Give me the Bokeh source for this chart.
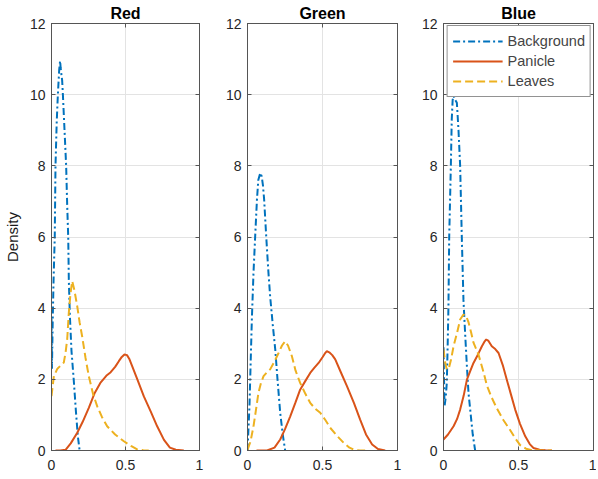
from bokeh.plotting import figure
from bokeh.layouts import row
from bokeh.models import Range1d, LinearAxis, FixedTicker, Legend, LegendItem
from bokeh.embed import file_html
from bokeh.resources import INLINE

# ---------------- data ----------------
panel_titles = ["Red", "Green", "Blue"]
series_names = ["Background", "Panicle", "Leaves"]
x_ticks = [0, 0.5, 1]
x_tick_labels = ["0", "0.5", "1"]
y_ticks = [0, 2, 4, 6, 8, 10, 12]
y_tick_labels = ["0", "2", "4", "6", "8", "10", "12"]

# Red channel
red_bg_x = [0, 0.003, 0.008, 0.014, 0.022, 0.027, 0.035, 0.043, 0.052, 0.058, 0.062, 0.066, 0.072,
            0.077, 0.088, 0.099, 0.106, 0.113, 0.117, 0.124, 0.135, 0.15, 0.165, 0.178, 0.19]
red_bg_y = [3.7, 2.3, 3.6, 4.8, 6.0, 8.0, 9.2, 10.0, 10.7, 10.95, 10.75, 10.6, 10.4,
            10.0, 9.0, 8.0, 6.9, 6.0, 4.8, 3.8, 2.8, 2.0, 1.1, 0.4, 0.0]
red_pan_x = [0.027, 0.06, 0.095, 0.13, 0.174, 0.21, 0.252, 0.29, 0.33, 0.37, 0.40, 0.43, 0.455,
             0.475, 0.493, 0.51, 0.525, 0.545, 0.58, 0.624, 0.67, 0.714, 0.76, 0.80, 0.84, 0.894]
red_pan_y = [0, 0, 0.02, 0.2, 0.5, 0.8, 1.2, 1.6, 1.9, 2.1, 2.2, 2.35, 2.51,
             2.63, 2.70, 2.68, 2.58, 2.37, 2.0, 1.52, 1.1, 0.68, 0.3, 0.08, 0.02, 0]
red_lea_x = [0, 0.016, 0.04, 0.065, 0.083, 0.095, 0.106, 0.117, 0.128, 0.14, 0.155, 0.174, 0.19,
             0.207, 0.23, 0.252, 0.28, 0.309, 0.34, 0.376, 0.43, 0.489, 0.54, 0.579, 0.62, 0.657]
red_lea_y = [1.53, 2.09, 2.3, 2.4, 2.47, 2.75, 3.12, 3.87, 4.4, 4.76, 4.5, 4.05, 3.6,
             3.21, 2.6, 2.09, 1.6, 1.24, 0.95, 0.68, 0.45, 0.26, 0.12, 0.03, 0.01, 0]

# Green channel
green_bg_x = [0, 0.013, 0.029, 0.04, 0.051, 0.063, 0.072, 0.085, 0.095, 0.103, 0.111, 0.125,
              0.138, 0.151, 0.168, 0.185, 0.2, 0.218, 0.235, 0.251]
green_bg_y = [0, 1.24, 3.68, 5.0, 6.0, 7.05, 7.6, 7.8, 7.7, 7.45, 7.05, 6.0,
              5.1, 4.33, 3.55, 2.84, 2.0, 1.06, 0.45, 0]
green_pan_x = [0.06, 0.13, 0.18, 0.218, 0.25, 0.285, 0.32, 0.351, 0.385, 0.418, 0.445, 0.474, 0.5,
               0.515, 0.529, 0.545, 0.565, 0.585, 0.62, 0.663, 0.71, 0.751, 0.79, 0.831, 0.87, 0.918]
green_pan_y = [0, 0, 0.08, 0.31, 0.6, 0.96, 1.35, 1.71, 1.95, 2.18, 2.32, 2.46, 2.62,
               2.72, 2.79, 2.76, 2.68, 2.56, 2.22, 1.81, 1.33, 0.87, 0.45, 0.17, 0.04, 0]
green_lea_x = [0, 0.02, 0.04, 0.055, 0.073, 0.09, 0.107, 0.13, 0.151, 0.18, 0.207, 0.23, 0.251,
               0.27, 0.296, 0.32, 0.351, 0.385, 0.418, 0.45, 0.485, 0.52, 0.551, 0.6, 0.64,
               0.68, 0.71, 0.75, 0.785]
green_lea_y = [0.02, 0.25, 0.68, 1.1, 1.62, 1.9, 2.09, 2.2, 2.28, 2.5, 2.74, 2.95, 3.07,
               2.95, 2.65, 2.25, 1.9, 1.6, 1.34, 1.18, 1.06, 0.85, 0.64, 0.4, 0.22,
               0.08, 0.02, 0, 0]

# Blue channel
blue_bg_x = [0, 0.004, 0.007, 0.015, 0.022, 0.028, 0.033, 0.038, 0.049, 0.055, 0.061, 0.067, 0.078,
             0.089, 0.093, 0.1, 0.111, 0.122, 0.133, 0.144, 0.156, 0.167, 0.178, 0.195, 0.211]
blue_bg_y = [2.9, 1.9, 1.24, 1.5, 1.9, 3.0, 4.05, 6.0, 8.0, 9.3, 9.85, 9.97, 9.85,
             9.77, 9.5, 9.0, 8.0, 6.0, 4.24, 3.3, 2.37, 1.6, 1.15, 0.45, 0]
blue_pan_x = [0, 0.03, 0.067, 0.09, 0.111, 0.135, 0.156, 0.18, 0.2, 0.23, 0.256, 0.272, 0.285, 0.3,
              0.322, 0.345, 0.367, 0.395, 0.422, 0.45, 0.478, 0.51, 0.545, 0.575, 0.6, 0.64, 0.68, 0.723]
blue_pan_y = [0.31, 0.45, 0.68, 0.88, 1.15, 1.55, 1.99, 2.25, 2.46, 2.7, 2.93, 3.05, 3.12, 3.08,
              2.93, 2.85, 2.74, 2.4, 1.99, 1.57, 1.15, 0.75, 0.40, 0.18, 0.07, 0.02, 0.01, 0]
blue_lea_x = [0, 0.012, 0.022, 0.035, 0.05, 0.067, 0.09, 0.111, 0.133, 0.15, 0.167, 0.185, 0.2,
              0.233, 0.267, 0.289, 0.32, 0.356, 0.4, 0.445, 0.48, 0.511, 0.55, 0.589, 0.65, 0.723]
blue_lea_y = [2.84, 2.45, 2.28, 2.3, 2.55, 2.93, 3.3, 3.68, 3.82, 3.79, 3.6, 3.3, 3.03,
              2.7, 2.2, 1.83, 1.5, 1.18, 0.85, 0.57, 0.33, 0.15, 0.05, 0.01, 0, 0]

panels = [
    [(red_bg_x, red_bg_y), (red_pan_x, red_pan_y), (red_lea_x, red_lea_y)],
    [(green_bg_x, green_bg_y), (green_pan_x, green_pan_y), (green_lea_x, green_lea_y)],
    [(blue_bg_x, blue_bg_y), (blue_pan_x, blue_pan_y), (blue_lea_x, blue_lea_y)],
]

# ---------------- style ----------------
COLORS = ["#0072BD", "#D95319", "#EDB120"]
DASHES = ["7 3 2 3", "solid", "8 4"]
FONT = "Liberation Sans"
AX = "#555555"
GRID = "#e3e3e3"

frame_widths = [148, 150, 150]
borders_left = [43, 34, 34]
borders_right = [14, 12, 3]

x_over = {t: l for t, l in zip(x_ticks, x_tick_labels)}
y_over = {t: l for t, l in zip(y_ticks, y_tick_labels)}


def style_axis(ax, ticks, overrides, show_labels):
    ax.ticker = FixedTicker(ticks=ticks)
    ax.axis_line_color = AX
    ax.major_tick_line_color = AX
    ax.major_tick_in = 4
    ax.major_tick_out = 0
    ax.minor_tick_line_color = None
    if show_labels:
        ax.major_label_overrides = overrides
        ax.major_label_text_font = FONT
        ax.major_label_text_font_size = "14px"
        ax.major_label_text_color = "#262626"
    else:
        ax.major_label_overrides = {t: "" for t in ticks}
        ax.major_label_text_font_size = "0px"
        ax.major_label_standoff = 0


figs = []
for i, title in enumerate(panel_titles):
    p = figure(
        frame_width=frame_widths[i], frame_height=427,
        x_range=Range1d(0, 1), y_range=Range1d(0, 12),
        output_backend="svg", toolbar_location=None,
        min_border_left=borders_left[i], min_border_right=borders_right[i],
        min_border_top=20, min_border_bottom=24,
        title=title,
    )
    p.title.text_font = FONT
    p.title.text_font_size = "16px"
    p.title.text_font_style = "bold"
    p.title.text_color = "#000000"
    p.title.align = "center"
    p.title.standoff = 4
    p.title.offset = 0

    p.outline_line_color = AX
    p.background_fill_color = "white"
    p.border_fill_color = "white"

    style_axis(p.xaxis[0], x_ticks, x_over, True)
    style_axis(p.yaxis[0], y_ticks, y_over, True)
    p.xaxis[0].major_label_standoff = 9
    p.yaxis[0].major_label_standoff = 6

    top_ax = LinearAxis()
    style_axis(top_ax, x_ticks, x_over, False)
    p.add_layout(top_ax, "above")
    right_ax = LinearAxis()
    style_axis(right_ax, y_ticks, y_over, False)
    p.add_layout(right_ax, "right")

    p.xgrid.ticker = FixedTicker(ticks=x_ticks)
    p.ygrid.ticker = FixedTicker(ticks=y_ticks)
    p.xgrid.grid_line_color = GRID
    p.ygrid.grid_line_color = GRID

    if i == 0:
        p.yaxis[0].axis_label = "Density"
        p.yaxis[0].axis_label_text_font = FONT
        p.yaxis[0].axis_label_text_font_size = "15px"
        p.yaxis[0].axis_label_text_font_style = "normal"
        p.yaxis[0].axis_label_text_color = "#1a1a1a"
        p.yaxis[0].axis_label_standoff = 6

    renderers = []
    for k, (xs, ys) in enumerate(panels[i]):
        r = p.line(xs, ys, line_color=COLORS[k], line_width=2, line_dash=DASHES[k])
        renderers.append(r)

    if i == 2:
        legend = Legend(
            items=[LegendItem(label=n, renderers=[r]) for n, r in zip(series_names, renderers)],
            location="top_right",
            label_text_font=FONT, label_text_font_size="14.5px",
            glyph_width=50, glyph_height=20, label_height=20,
            label_standoff=5, padding=5, spacing=0, margin=2,
            border_line_color="#262626", border_line_width=1,
            background_fill_alpha=1,
        )
        p.add_layout(legend)
    figs.append(p)

layout = row(*figs)
open("out.html", "w").write(file_html(layout, INLINE))
